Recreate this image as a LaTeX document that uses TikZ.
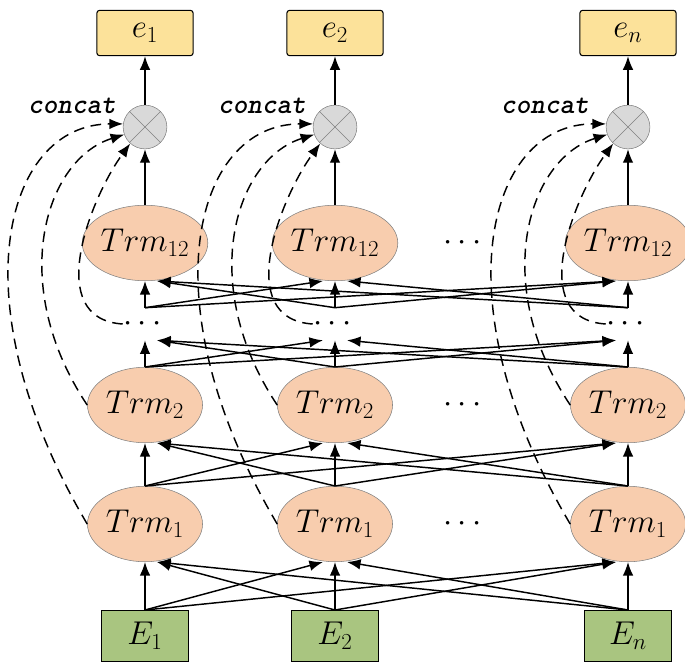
\documentclass[tikz,border=0pt]{standalone}
\usepackage{amsmath}
\usepackage{tikz}
\usetikzlibrary{arrows.meta,shapes.geometric,calc}
\definecolor{out-yellow}{HTML}{FCE29A}
\definecolor{trm-peach}{HTML}{F8CDAE}
\definecolor{cat-gray}{gray}{0.85}
\definecolor{emb-green}{HTML}{A9C580}
\tikzset{
	bigtext/.style={font=\fontsize{23}{27}\selectfont},
	outbox/.style={draw=black,thick,fill=out-yellow,rounded corners=2pt,minimum width=2.55cm,minimum height=1.2cm,bigtext},
	trm/.style={ellipse,draw=gray,fill=trm-peach,minimum width=3.05cm,minimum height=2cm,inner sep=0pt,bigtext},
	catnode/.style={circle,draw=gray,fill=cat-gray,minimum size=1.16cm,inner sep=0pt},
	embbox/.style={draw=black,thick,fill=emb-green,minimum width=2.3cm,minimum height=1.35cm,bigtext},
	dots/.style={minimum height=0.85cm,minimum width=0.8cm,inner sep=0pt,bigtext},
	arr/.style={-{Latex[length=3.6mm,width=2.8mm]},line width=1.1pt},
	skip/.style={-{Latex[length=3.6mm,width=2.8mm]},line width=1.1pt,dash pattern=on 8pt off 5pt}
}
\begin{document}
\begin{tikzpicture}[x=0.0265cm,y=-0.0265cm]
	\useasboundingbox (0,0) rectangle (685,667);
	\foreach \c/\x/\s in {1/145/1,2/335/2,3/628/n}{						% columns
		\node[outbox] (e\c) at (\x,33) {$e_{\s}$};
		\node[catnode] (cat\c) at (\x,127) {};
		\draw[gray] (cat\c.45) -- (cat\c.225) (cat\c.135) -- (cat\c.315);
		\node[trm] (tc\c) at (\x,243) {$Trm_{12}$};
		\node[dots] (d\c) at (\x,324) {$\cdots$};
		\node[trm] (tb\c) at (\x,405) {$Trm_{2}$};
		\node[trm] (ta\c) at (\x,524) {$Trm_{1}$};
		\node[embbox] (E\c) at (\x,636) {$E_{\s}$};
		\draw[arr] (cat\c) -- (e\c);
		\draw[arr] (tc\c) -- (cat\c);
	}
	\foreach \c/\x in {1/72,2/262,3/545}{								% concat labels
		\node[font=\fontsize{21}{25}\selectfont\ttfamily\itshape\bfseries] (lab\c) at (\x,106) {concat};
	}
	\foreach \y/\n in {243/h3,405/h2,524/h1}{							% column gap dots
		\node[bigtext] (\n) at (465,\y) {$\cdots$};
	}
	\foreach \lo/\up in {E/ta,ta/tb,tb/d,d/tc}{						% full connections
		\foreach \i in {1,2,3}{
			\foreach \j in {1,2,3}{
				\pgfmathsetmacro{\off}{\i<\j ? -12 : (\i>\j ? 12 : 0)}
				\draw[arr] (\lo\i.north) -- ($(\up\j.south)+(\off,0)$);
			}
		}
	}
	\foreach \c in {1,2,3}{											% skip links to concat
		\draw[skip] (ta\c.west) .. controls +(-130,-220) and +(-120,0) .. (cat\c.172);
		\draw[skip] (tb\c.west) .. controls +(-80,-120) and +(-80,25) .. (cat\c.200);
		\draw[skip] (d\c.west) .. controls +(-80,-5) and +(-40,55) .. (cat\c.228);
	}
\end{tikzpicture}
\end{document}
